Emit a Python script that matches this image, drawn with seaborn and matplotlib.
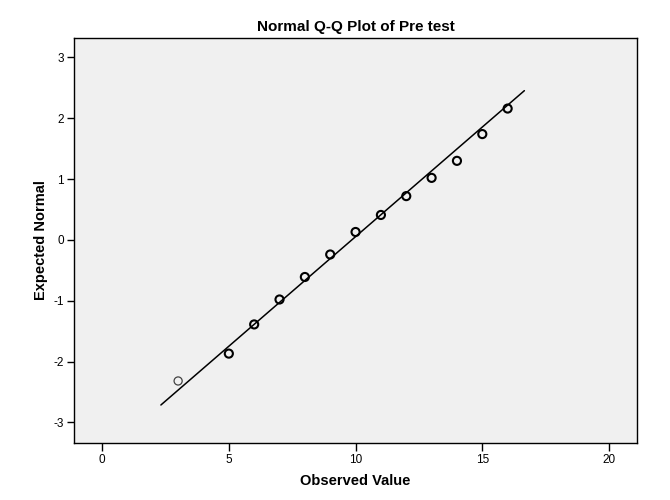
"""
Normal Q-Q Plot of Pre test (SPSS style)
"""

import pandas as pd
import numpy as np
import seaborn as sns
import matplotlib.pyplot as plt


# --------------------------------------------------
# Values
# --------------------------------------------------
observed = [3, 5, 6, 7, 8, 9, 10, 11, 12, 13, 14, 15, 16]
expected = [-2.32, -1.87, -1.39, -0.98, -0.61, -0.24, 0.13,
            0.41, 0.72, 1.02, 1.30, 1.74, 2.16]

# reference line end points
line_x = [2.32, 16.66]
line_y = [-2.715, 2.454]

x_ticks = [0, 5, 10, 15, 20]
y_ticks = [-3, -2, -1, 0, 1, 2, 3]

df = pd.DataFrame({"observed": observed, "expected": expected})
line_df = pd.DataFrame({"x": line_x, "y": line_y})

# --------------------------------------------------
# Plot
# --------------------------------------------------
sns.set_style("ticks")
plt.rcParams["font.family"] = ["Liberation Sans", "DejaVu Sans"]
plt.rcParams["axes.unicode_minus"] = False
plt.rcParams["text.color"] = "black"
plt.rcParams["axes.labelcolor"] = "black"

fig = plt.figure(figsize=(6.7, 5), dpi=100)
ax = fig.add_axes([0.110, 0.114, 0.841, 0.810])
ax.set_facecolor("#F0F0F0")

sns.lineplot(data=line_df, x="x", y="y", color="black", linewidth=1.1, ax=ax)

# first point drawn lighter (single case), the rest heavier (overlapping cases)
sns.scatterplot(data=df.iloc[:1], x="observed", y="expected", ax=ax,
                marker="o", s=34, facecolor="none", edgecolor="#444444",
                linewidth=0.9, zorder=3)
sns.scatterplot(data=df.iloc[1:], x="observed", y="expected", ax=ax,
                marker="o", s=34, facecolor="none", edgecolor="black",
                linewidth=1.5, zorder=3)

ax.set_xlim(-1.12, 21.11)
ax.set_ylim(-3.34, 3.32)
ax.set_xticks(x_ticks)
ax.set_yticks(y_ticks)
ax.tick_params(direction="out", length=5, width=1, colors="black",
               labelcolor="black", labelsize=8.5, pad=2,
               bottom=True, left=True)
ax.tick_params(axis="x", length=6)

for sp in ax.spines.values():
    sp.set_visible(True)
    sp.set_color("black")
    sp.set_linewidth(1)

ax.set_xlabel("Observed Value", fontsize=10.5, fontweight="bold", labelpad=6)
ax.set_ylabel("Expected Normal", fontsize=10.5, fontweight="bold", labelpad=4)
ax.set_title("Normal Q-Q Plot of Pre test", fontsize=11, fontweight="bold", pad=5)

fig.savefig("out.png", dpi=100, facecolor="white")
plt.close(fig)
